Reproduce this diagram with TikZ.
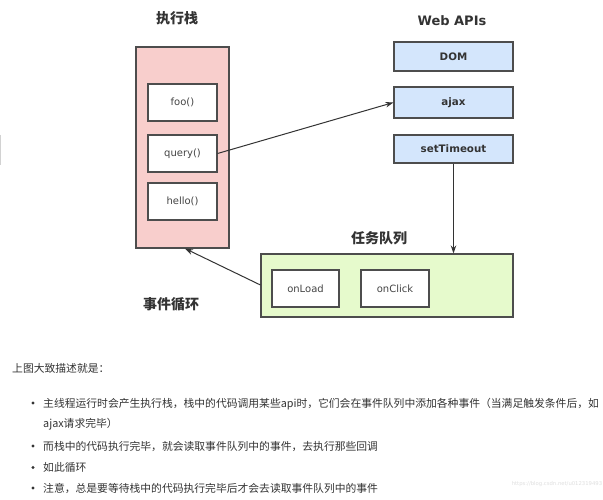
\documentclass[tikz,border=0pt]{standalone}
\usepackage{fontspec}
\setmainfont{Noto Sans CJK SC}
\newfontfamily\lat{DejaVu Sans}
\usetikzlibrary{arrows.meta,calc}
\definecolor{txt}{HTML}{333333}
\definecolor{lbl}{HTML}{444444}
\definecolor{edge}{HTML}{4D4D4D}
\definecolor{pinkfill}{HTML}{F8CECC}
\definecolor{bluefill}{HTML}{D4E6FC}
\definecolor{greenfill}{HTML}{E6FACC}
\tikzset{
  box/.style={draw=edge, line width=1.1pt, minimum width=#1, inner sep=0pt},
  frame/.style={draw=edge, line width=1.1pt, inner sep=0pt},
  fn/.style={box=69pt, fill=white, minimum height=37pt, font=\lat\fontsize{10}{12}\selectfont, text=lbl},
  api/.style={box=119pt, fill=bluefill, font=\lat\bfseries\fontsize{10.3}{12}\selectfont, text=txt},
  ttl/.style={font=\bfseries\fontsize{14}{16}\selectfont, text=txt, inner sep=0pt},
  conn/.style={draw=txt, line width=1pt, -{Stealth[length=8pt,width=5.5pt]}},
  para/.style={font=\fontsize{10.8}{12}\selectfont, text=txt, inner sep=0pt, anchor=base west},
  dot/.style={circle, fill=txt, inner sep=0pt, minimum size=3.4pt}
}
\begin{document}
\begin{tikzpicture}[x=1pt,y=-1pt]
\useasboundingbox (0,0) rectangle (603,500);
\fill[white] (0,0) rectangle (603,500);
\draw[gray!35, line width=1pt] (0.5,135) -- (0.5,165);

% titles
\node[ttl] (tstack) at (177,18) {执行栈};
\node[ttl, font=\lat\bfseries\fontsize{13}{16}\selectfont] (tapi) at (452,21) {Web APIs};
\node[ttl] (tqueue) at (379,238) {任务队列};
\node[ttl] (tloop) at (171,304) {事件循环};

% stack
\node[frame, fill=pinkfill, minimum width=93pt, minimum height=201pt] (stack) at (182.5,147.5) {};
\node[fn] (foo) at (182.5,102.5) {foo()};
\node[fn] (query) at (182.5,153.5) {query()};
\node[fn] (hello) at (182.5,201.5) {hello()};

% web apis
\node[api, minimum height=29pt] (dom) at (453.5,56.5) {DOM};
\node[api, minimum height=31pt] (ajax) at (453.5,102.5) {ajax};
\node[api, minimum height=28pt] (timeout) at (453.5,149) {setTimeout};

% queue
\node[frame, fill=greenfill, minimum width=252pt, minimum height=63pt] (queue) at (387,285.5) {};
\node[fn, minimum width=67pt] (onload) at (305.5,288.5) {onLoad};
\node[fn, minimum width=68pt] (onclick) at (395,288.5) {onClick};

% connectors
\draw[conn] (query.east) -- (ajax.west);
\draw[conn] (timeout.south) -- (timeout.south |- queue.north);
\draw[conn] ($(queue.west)+(0,-0.5)$) -- ($(stack.south)+(2.5,0)$);

% description text
\node[para] (intro) at (12,372) {上图大致描述就是：};
\node[dot] (b1) at (33,403) {};
\node[para] (l1) at (43,407) {主线程运行时会产生执行栈，栈中的代码调用某些api时，它们会在事件队列中添加各种事件（当满足触发条件后，如};
\node[para] (l1b) at (43,427) {ajax请求完毕）};
\node[dot] (b2) at (33,446) {};
\node[para] (l2) at (43,450) {而栈中的代码执行完毕，就会读取事件队列中的事件，去执行那些回调};
\node[dot] (b3) at (33,467.5) {};
\node[para] (l3) at (43,471.5) {如此循环};
\node[dot] (b4) at (33,488) {};
\node[para] (l4) at (43,492) {注意，总是要等待栈中的代码执行完毕后才会去读取事件队列中的事件};
\node[font=\lat\fontsize{5.3}{6}\selectfont, text=gray!25, inner sep=0pt] (wm) at (557,484) {https://blog.csdn.net/u012319493};
\end{tikzpicture}
\end{document}
